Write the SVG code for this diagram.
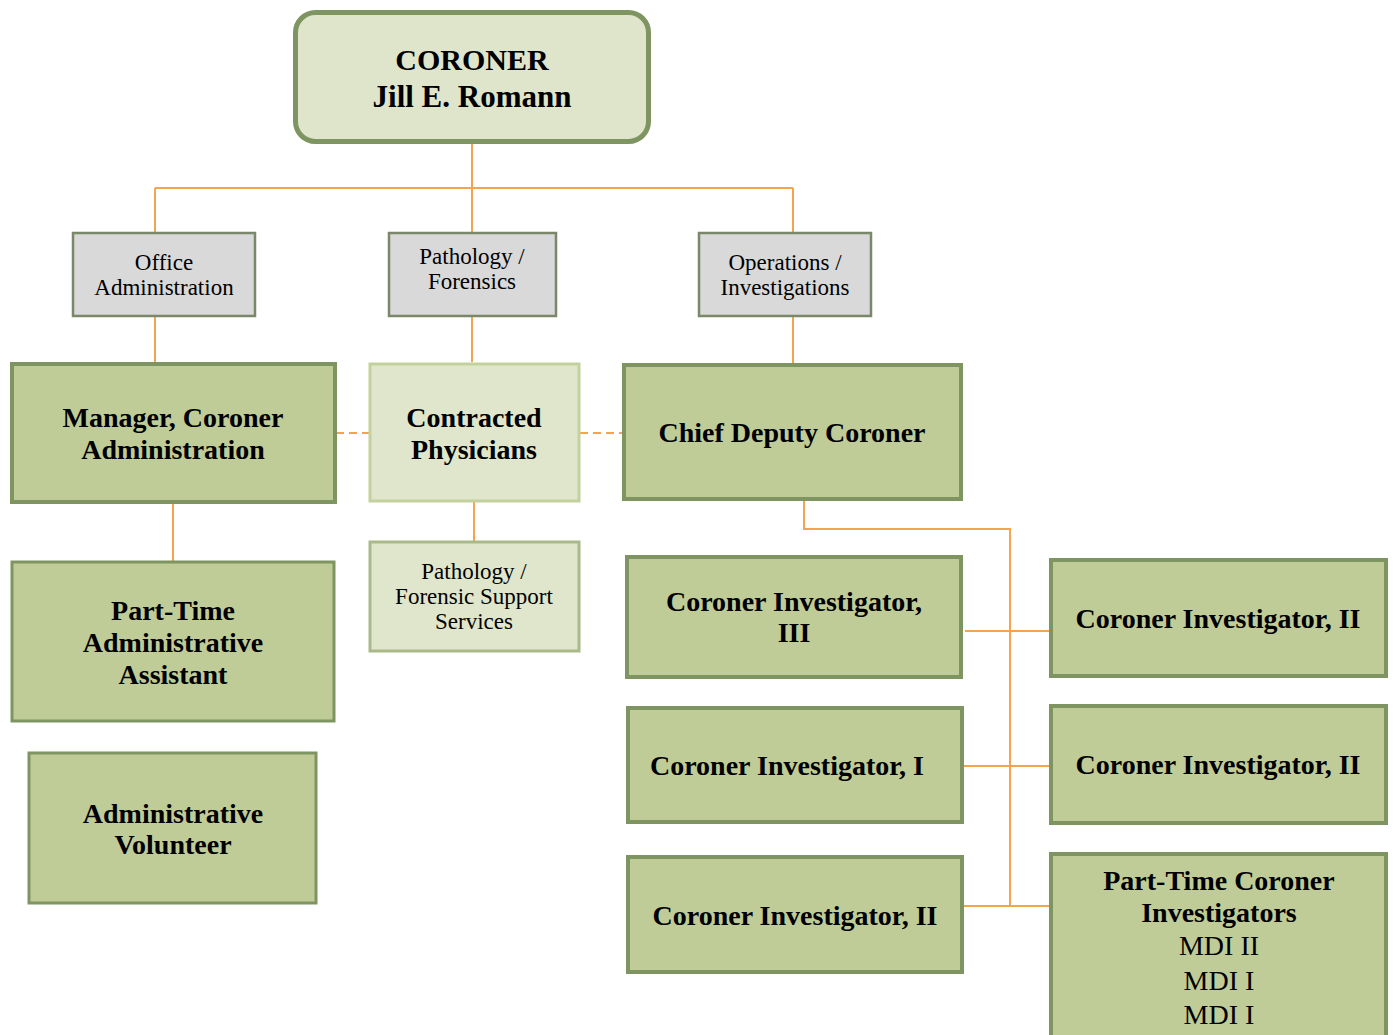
<svg xmlns="http://www.w3.org/2000/svg" width="1396" height="1035" viewBox="0 0 1396 1035">
<style>
.t{font-family:"Liberation Serif","Times New Roman",serif;text-anchor:middle;fill:#000}
.b{font-weight:bold;font-size:28px}
.r{font-size:23px}
.big{font-size:28px}
.dk{fill:#c0cc97;stroke:#7e9561;stroke-width:4}
.dk2{fill:#c0cc97;stroke:#7e9561;stroke-width:3}
.gr{fill:#d9d9d9;stroke:#7b8769;stroke-width:2.5}
.lt{fill:#dfe6cb;stroke:#c3d19c;stroke-width:3}
.lt2{fill:#dfe6cb;stroke:#a9ba88;stroke-width:3}
.c{fill:none;stroke:#f4a44c;stroke-width:2}
.d{fill:none;stroke:#f4a44c;stroke-width:2;stroke-dasharray:8 5}
</style>
<rect width="1396" height="1035" fill="#fff"/>
<g id="connectors">
<path class="c" d="M472 143V232M155 188H793M155 188V232M793 188V232"/>
<path class="c" d="M155 317V362M472 317V362M793 317V363"/>
<path class="c" d="M173 503V561M474 502V541"/>
<path class="d" d="M336 433H369M580 433H622"/>
<path class="c" d="M804 500V529H1010V906M965 631H1050M963 766H1050M963 906H1050"/>
</g>
<g id="coroner">
<rect x="295.5" y="12.5" width="353" height="129" rx="20" fill="#dfe5cb" stroke="#7e9561" stroke-width="5"/>
<text class="t" x="472" y="70" font-weight="bold" font-size="30">CORONER</text>
<text class="t" x="472" y="107" font-weight="bold" font-size="31">Jill E. Romann</text>
</g>
<g id="office-admin">
<rect class="gr" x="73" y="233" width="182" height="83"/>
<text class="t r" x="164" y="270">Office</text>
<text class="t r" x="164" y="295">Administration</text>
</g>
<g id="pathology-forensics">
<rect class="gr" x="389" y="233" width="167" height="83"/>
<text class="t r" x="472" y="264">Pathology /</text>
<text class="t r" x="472" y="289">Forensics</text>
</g>
<g id="operations">
<rect class="gr" x="699" y="233" width="172" height="83"/>
<text class="t r" x="785" y="270">Operations /</text>
<text class="t r" x="785" y="295">Investigations</text>
</g>
<g id="manager">
<rect class="dk" x="12" y="364" width="323" height="138"/>
<text class="t b" x="173" y="427">Manager, Coroner</text>
<text class="t b" x="173" y="459">Administration</text>
</g>
<g id="contracted">
<rect class="lt" x="370" y="364" width="209" height="137"/>
<text class="t b" x="474" y="427">Contracted</text>
<text class="t b" x="474" y="459">Physicians</text>
</g>
<g id="chief-deputy">
<rect class="dk" x="624" y="365" width="337" height="134"/>
<text class="t b" x="792" y="442">Chief Deputy Coroner</text>
</g>
<g id="pt-admin">
<rect class="dk2" x="12" y="562" width="322" height="159"/>
<text class="t b" x="173" y="620">Part-Time</text>
<text class="t b" x="173" y="652">Administrative</text>
<text class="t b" x="173" y="684">Assistant</text>
</g>
<g id="volunteer">
<rect class="dk2" x="29" y="753" width="287" height="150"/>
<text class="t b" x="173" y="823">Administrative</text>
<text class="t b" x="173" y="854">Volunteer</text>
</g>
<g id="path-support">
<rect class="lt2" x="370" y="542" width="209" height="109"/>
<text class="t r" x="474" y="579">Pathology /</text>
<text class="t r" x="474" y="604">Forensic Support</text>
<text class="t r" x="474" y="629">Services</text>
</g>
<g id="ci-3">
<rect class="dk" x="627" y="557" width="334" height="120"/>
<text class="t b" x="794" y="611">Coroner Investigator,</text>
<text class="t b" x="794" y="642">III</text>
</g>
<g id="ci-2a">
<rect class="dk" x="1051" y="560" width="335" height="116"/>
<text class="t b" x="1218" y="628">Coroner Investigator, II</text>
</g>
<g id="ci-1">
<rect class="dk" x="628" y="708" width="334" height="114"/>
<text class="t b" x="787" y="775">Coroner Investigator, I</text>
</g>
<g id="ci-2b">
<rect class="dk" x="1051" y="706" width="335" height="117"/>
<text class="t b" x="1218" y="774">Coroner Investigator, II</text>
</g>
<g id="ci-2c">
<rect class="dk" x="628" y="857" width="334" height="115"/>
<text class="t b" x="795" y="925">Coroner Investigator, II</text>
</g>
<g id="pt-ci">
<rect class="dk" x="1051" y="854" width="335" height="190"/>
<text class="t b" x="1219" y="890">Part-Time Coroner</text>
<text class="t b" x="1219" y="922">Investigators</text>
<text class="t big" x="1219" y="955">MDI II</text>
<text class="t big" x="1219" y="990">MDI I</text>
<text class="t big" x="1219" y="1024">MDI I</text>
</g>
</svg>
